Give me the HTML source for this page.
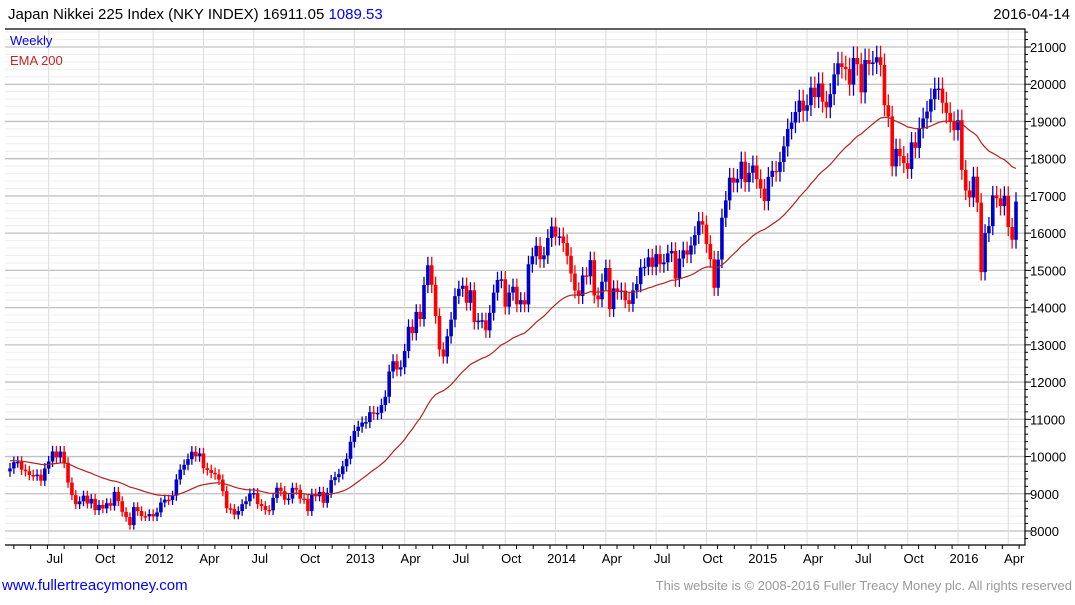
<!DOCTYPE html>
<html><head><meta charset="utf-8"><style>
body{margin:0;background:#fff;width:1075px;height:600px;overflow:hidden;font-family:"Liberation Sans",sans-serif}
svg text{font-family:"Liberation Sans",sans-serif}
</style></head><body>
<svg id="chart" width="1075" height="600" xmlns="http://www.w3.org/2000/svg">
<text x="8" y="19" font-size="15" fill="#000">Japan Nikkei 225 Index (NKY INDEX) 16911.05 <tspan fill="#0000ff">1089.53</tspan></text>
<text x="1070" y="19" font-size="15" text-anchor="end" fill="#000">2016-04-14</text>
<g id="grid"></g>
<g id="marks"></g>
<g id="axes"></g>
<text x="10" y="45" font-size="13" fill="#0000ff">Weekly</text>
<text x="10" y="65" font-size="13" fill="#cc2222">EMA 200</text>
<text x="2" y="590" font-size="15" fill="#0000ff">www.fullertreacymoney.com</text>
<text x="1072" y="590" font-size="13" text-anchor="end" fill="#999">This website is © 2008-2016 Fuller Treacy Money plc. All rights reserved</text>
</svg>
<script>
const closes = [
9682,9849,9859,9648,9607,9504,9492,9514,9351,9678,9868,10137,9974,10132,9833,9299,8963,8719,8797,8950,8737,8864,8560,8700,8605,8747,8678,9050,8801,8514,8374,8160,8643,8536,8401,8395,8455,
8390,8500,8766,8841,8831,8947,9384,9647,9777,9929,10129,10011,10083,9688,9637,9561,9520,9380,9070,8611,8593,8440,8536,8721,8798,9006,9020,8724,8670,8566,8555,8891,9162,9070,8839,8871,9159,9110,8870,8863,8534,9002,8933,9051,8757,9024,9366,9446,9527,9737,9940,10395,
10688,10801,10913,10926,11191,11153,11173,11385,11606,12283,12560,12338,12397,12833,13485,13316,13884,13694,14607,15138,14612,13775,12877,12686,13230,13677,14309,14506,14589,14129,14466,13615,13650,13660,13389,13860,14404,14742,14760,14024,14404,14561,14088,14201,14086,15165,15381,15661,15299,15403,15870,16178,
15908,15912,15734,15391,14914,14462,14313,14865,14841,15274,14327,14224,14696,15063,13960,14516,14429,14457,14199,14097,14462,14632,15077,15097,15349,15095,15437,15165,15215,15457,15523,14778,15318,15539,15425,15669,15948,16321,16229,15708,15300,14532,15291,16414,16880,17490,17357,17460,17920,17371,17621,17818,
17450,17198,16864,17511,17674,17648,17913,18332,18798,18971,19254,19560,19286,19435,19908,19653,20020,19531,19380,19733,20264,20563,20461,20407,19990,20706,20540,19780,20650,20544,20585,20724,20519,19436,19136,17792,18264,18070,17880,17725,18438,18291,18826,19083,19265,19597,19879,19883,19504,19230,18986,18769,
19034,17698,17147,16958,17518,16820,14953,16000,16188,17015,16938,16725,17002,16164,15822,16848];
const firstOpen = 9600;
const yTicks = [8000,9000,10000,11000,12000,13000,14000,15000,16000,17000,18000,19000,20000,21000];
const xLabels = ["Jul","Oct","2012","Apr","Jul","Oct","2013","Apr","Jul","Oct","2014","Apr","Jul","Oct","2015","Apr","Jul","Oct","2016","Apr"];
const xLabelWeeks = [10,23,37,50,63,76,89,102,115,128,141,154,167,180,193,206,219,232,245,258];
const emaPeriod = 40;

const NS="http://www.w3.org/2000/svg";
const L=5,R=1025,T=29,B=545;
const x=i=>10+i*(1006/(closes.length-1));
const y=v=>531-(v-8000)*(484/13000);
function mk(tag,attrs,parent){const e=document.createElementNS(NS,tag);for(const k in attrs)e.setAttribute(k,attrs[k]);parent.appendChild(e);return e;}
const grid=document.getElementById('grid'),marks=document.getElementById('marks'),axes=document.getElementById('axes');
for(let v=7800;v<=21400;v+=200){const yy=y(v);if(yy<T||yy>B)continue;
 const major=v%1000===0;
 const g=mk('line',{x1:L,x2:R,y1:yy,y2:yy,stroke:major?'#c0c0c0':'#eeeeee','stroke-width':major?1.3:1},grid);
 
 
 const t=mk('line',{x1:R,x2:R+(major?6:3),y1:yy,y2:yy,stroke:'#000'},axes);
 
 
}
yTicks.forEach(v=>{const t=mk('text',{x:R+5,y:y(v)+5,'font-size':13,fill:'#000'},axes);t.textContent=v;
 
 });
xLabelWeeks.forEach((w,k)=>{const xx=x(w);
 const g=mk('line',{x1:xx,x2:xx,y1:T,y2:B,stroke:'#dcdcdc'},grid);
 
 
 const t=mk('text',{x:xx+6,y:563,'font-size':13,'text-anchor':'middle',fill:'#000'},axes);t.textContent=xLabels[k];
 
 });
for(let w=1;w<closes.length;w+=4.33){const xx=x(w);const t=mk('line',{x1:xx,x2:xx,y1:B,y2:B+4,stroke:'#000'},axes);
 
 }
const frame=mk('path',{d:`M${L} ${T}H${R}V${B}H${L}`,fill:'none',stroke:'#000','stroke-width':1.2},axes);


closes.forEach((c,i)=>{const o=i?closes[i-1]:firstOpen;const hi=Math.max(o,c)*1.015,lo=Math.min(o,c)*0.985;
 const col=c>=o?'#0000cc':'#ff0000';const xx=x(i);
 const w=mk('line',{x1:xx,x2:xx,y1:y(hi),y2:y(lo),stroke:col,'stroke-width':1.3},marks);
 
 
 const top=y(Math.max(o,c)),h=Math.max(1.5,y(Math.min(o,c))-top);
 const b=mk('rect',{x:xx-1.8,y:top,width:3.6,height:h,fill:col},marks);
 
 });
let e=9900;const a=2/(emaPeriod+1);let d='';
closes.forEach((c,i)=>{e=e+a*(c-e);d+=(i?'L':'M')+x(i).toFixed(1)+' '+y(e).toFixed(1);});
const ema=mk('path',{d:d,fill:'none',stroke:'#b22222','stroke-width':1.2},marks);


</script>
</body></html>
